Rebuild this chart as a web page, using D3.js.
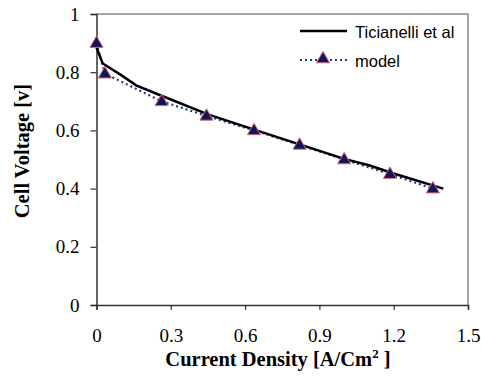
<!DOCTYPE html>
<html>
<head>
<meta charset="utf-8">
<script src="https://cdn.jsdelivr.net/npm/d3@7"></script>
<style>
  body { margin: 0; background: #fff; }
  .tick text { font-family: "Liberation Serif", "Times New Roman", serif; font-size: 19px; fill: #000; }
  .axisTitle { font-family: "Liberation Serif", "Times New Roman", serif; font-size: 20.5px; font-weight: bold; }
  .legendText { font-family: "Liberation Sans", Arial, sans-serif; font-size: 16.5px; }
</style>
</head>
<body>
<script>
(function(){

    //measured curve (Ticianelli et al)
    var expX = [0, 0.025, 0.1, 0.16, 0.26, 0.45, 0.64, 0.82, 1.0, 1.1, 1.2, 1.4];
    var expY = [0.885, 0.83, 0.79, 0.755, 0.72, 0.655, 0.602, 0.552, 0.502, 0.48, 0.452, 0.40];

    //model points
    var modelX = [0, 0.034, 0.263, 0.444, 0.636, 0.82, 1.0, 1.185, 1.358];
    var modelY = [0.9, 0.795, 0.70, 0.65, 0.60, 0.55, 0.50, 0.45, 0.40];

    var xTicks = [0, 0.3, 0.6, 0.9, 1.2, 1.5];
    var yTicks = [0, 0.2, 0.4, 0.6, 0.8, 1];
    var legendNames = ["Ticianelli et al", "model"];

    var width = 481, height = 376;
    var left = 96.5, right = 468, top = 14, bottom = 305;

    var svg = d3.select("body").append("svg")
        .attr("width", width)
        .attr("height", height);

    var x = d3.scaleLinear().domain([0, 1.5]).range([left, right]);
    var y = d3.scaleLinear().domain([0, 1]).range([bottom, top]);

    //plot border (top and right)
    svg.append("path")
        .attr("d", "M" + left + "," + top + "H" + right + "V" + bottom)
        .attr("fill", "none")
        .attr("stroke", "#888")
        .attr("stroke-width", 1.5);

    //axes
    var xAxis = svg.append("g")
        .attr("transform", "translate(0," + bottom + ")")
        .call(d3.axisBottom(x).tickValues(xTicks).tickSize(5).tickPadding(19)
            .tickFormat(function(d){ return d === 0 ? "0" : d3.format(".1f")(d); }));
    var yAxis = svg.append("g")
        .attr("transform", "translate(" + left + ",0)")
        .call(d3.axisLeft(y).tickValues(yTicks).tickSize(6).tickPadding(11)
            .tickFormat(function(d){ return (d === 0 || d === 1) ? String(d) : d3.format(".1f")(d); }));
    [xAxis, yAxis].forEach(function(g){
        g.select(".domain").attr("stroke", "#333").attr("stroke-width", 1.5);
        g.selectAll(".tick line").attr("stroke", "#333").attr("stroke-width", 1.2);
    });

    //experiment line
    var expData = expX.map(function(d, i){ return [d, expY[i]]; });
    var modelData = modelX.map(function(d, i){ return [d, modelY[i]]; });
    var line = d3.line().x(function(d){ return x(d[0]); }).y(function(d){ return y(d[1]); });

    svg.append("path")
        .datum(modelData)
        .attr("d", line)
        .attr("fill", "none")
        .attr("stroke", "#1f3c88")
        .attr("stroke-width", 2.2)
        .attr("stroke-dasharray", "2,3");

    svg.append("path")
        .datum(expData)
        .attr("d", line)
        .attr("fill", "none")
        .attr("stroke", "#000")
        .attr("stroke-width", 2.5);

    var tri = d3.symbol().type(d3.symbolTriangle).size(75);
    svg.selectAll(".marker")
        .data(modelData)
        .enter()
        .append("path")
        .attr("class", "marker")
        .attr("d", tri)
        .attr("transform", function(d){ return "translate(" + x(d[0]) + "," + (y(d[1]) + 0.5) + ")"; })
        .attr("fill", "#14145a")
        .attr("stroke", "#d9687a")
        .attr("stroke-width", 1);

    //legend
    var lg = svg.append("g");
    lg.append("line").attr("x1", 300).attr("x2", 347).attr("y1", 31).attr("y2", 31)
        .attr("stroke", "#000").attr("stroke-width", 2.5);
    lg.append("line").attr("x1", 300).attr("x2", 347).attr("y1", 60).attr("y2", 60)
        .attr("stroke", "#1f3c88").attr("stroke-width", 2.2).attr("stroke-dasharray", "2,3");
    lg.append("path").attr("d", tri).attr("transform", "translate(323,59)")
        .attr("fill", "#14145a").attr("stroke", "#d9687a");
    lg.selectAll(".legendText")
        .data(legendNames)
        .enter()
        .append("text")
        .attr("class", "legendText")
        .attr("x", 355)
        .attr("y", function(d, i){ return 38 + i * 28.5; })
        .text(function(d){ return d; });

    //axis titles
    var xt = svg.append("text")
        .attr("class", "axisTitle")
        .attr("x", 278)
        .attr("y", 366)
        .attr("text-anchor", "middle");
    xt.append("tspan").text("Current Density [A/Cm");
    xt.append("tspan").attr("font-size", "13px").attr("dy", -8).text("2");
    xt.append("tspan").attr("dy", 8).text(" ]");

    svg.append("text")
        .attr("class", "axisTitle")
        .attr("transform", "translate(29,151) rotate(-90)")
        .attr("text-anchor", "middle")
        .text("Cell Voltage [v]");

})();
</script>
</body>
</html>
